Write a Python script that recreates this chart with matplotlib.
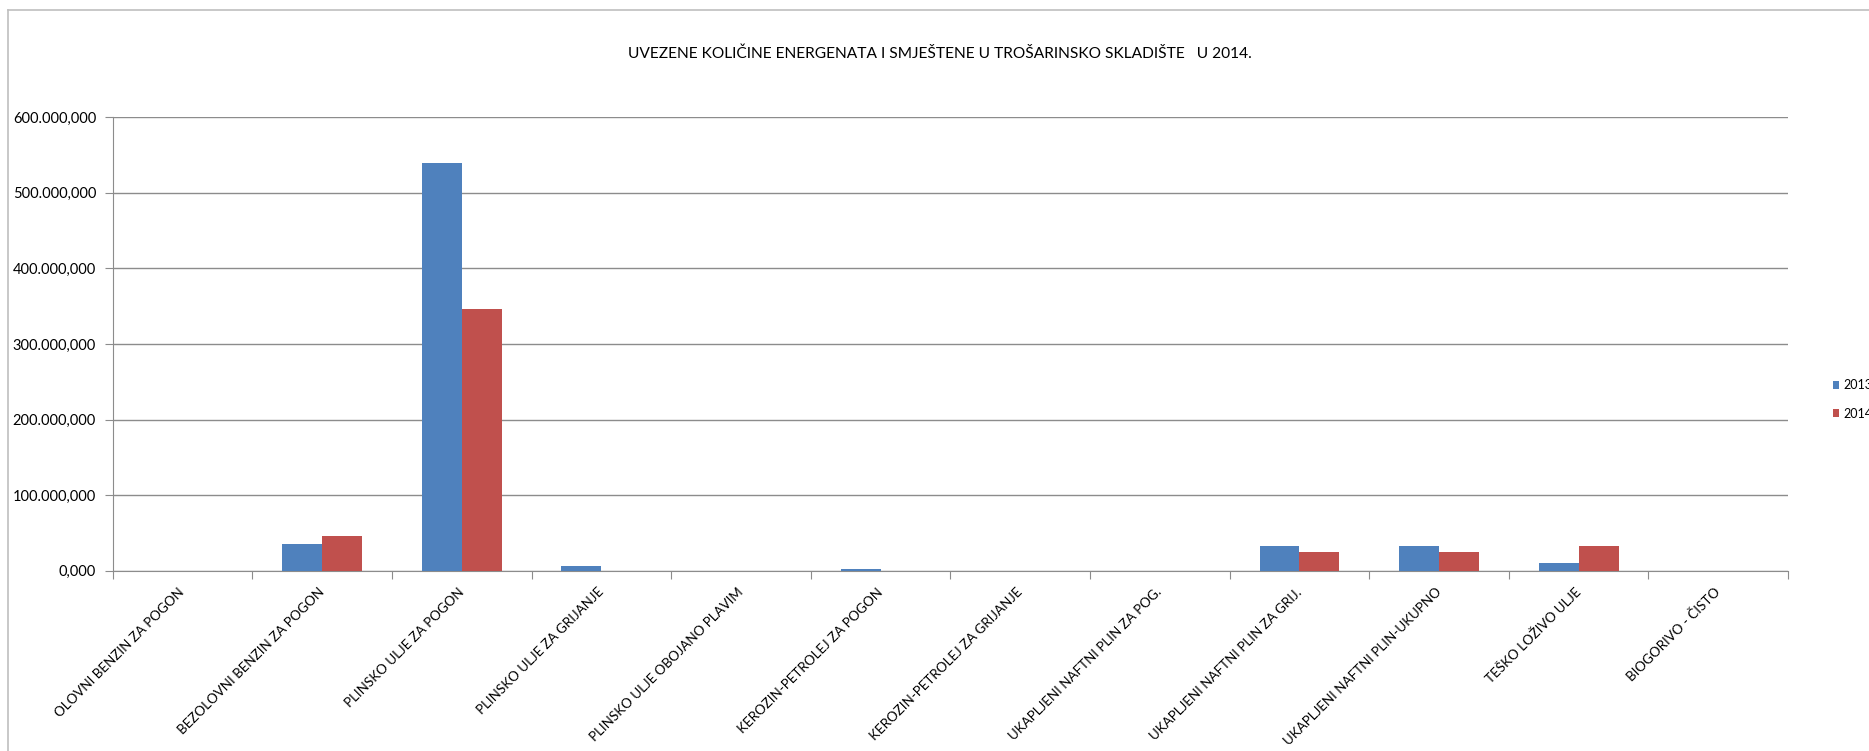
import numpy as np
import matplotlib.pyplot as plt
import matplotlib
from matplotlib.patches import Patch
from matplotlib.lines import Line2D
from matplotlib.ticker import FuncFormatter

plt.rcParams['font.family'] = ['Lato', 'DejaVu Sans']

title = 'UVEZENE KOLIČINE ENERGENATA I SMJEŠTENE U TROŠARINSKO SKLADIŠTE   U 2014.'
categories = ['OLOVNI BENZIN ZA POGON', 'BEZOLOVNI BENZIN ZA POGON',
              'PLINSKO ULJE ZA POGON', 'PLINSKO ULJE ZA GRIJANJE',
              'PLINSKO ULJE OBOJANO PLAVIM', 'KEROZIN-PETROLEJ ZA POGON',
              'KEROZIN-PETROLEJ ZA GRIJANJE', 'UKAPLJENI NAFTNI PLIN ZA POG.',
              'UKAPLJENI NAFTNI PLIN ZA GRIJ.', 'UKAPLJENI NAFTNI PLIN-UKUPNO',
              'TEŠKO LOŽIVO ULJE', 'BIOGORIVO - ČISTO']
series = ['2013', '2014']
v2013 = [0, 34800, 539500, 6200, 0, 1800, 0, 200, 32700, 32700, 10200, 0]
v2014 = [0, 45800, 346000, 0, 0, 0, 0, 0, 24700, 24700, 33000, 0]
colors = ['#4F81BD', '#C0504D']

fig = plt.figure(figsize=(18.69, 7.51), dpi=100)
ax = fig.add_axes([0.0603, 0.2401, 0.8964, 0.6037])

ind = np.arange(len(categories))
width = 1 / 3.5
ax.bar(ind - width / 2, v2013, width, color=colors[0], zorder=3)
ax.bar(ind + width / 2, v2014, width, color=colors[1], zorder=3)

ax.set_xlim(-0.5, len(categories) - 0.5)
ax.set_ylim(0, 600000)
ax.set_yticks(np.arange(0, 600001, 100000))


def fmt(v, pos):
    s = '{:,.3f}'.format(v)
    return s.replace(',', '#').replace('.', ',').replace('#', '.')


ax.yaxis.set_major_formatter(FuncFormatter(fmt))
ax.grid(axis='y', color='#8C8C8C', linewidth=1.0, zorder=0)
ax.set_axisbelow(True)

ax.set_xticks(np.arange(len(categories) + 1) - 0.5)
ax.set_xticklabels([])
ax.set_xticks(ind, minor=True)
ax.set_xticklabels(categories, minor=True, rotation=45, ha='right', va='center',
                   rotation_mode='anchor', fontsize=9.6)
ax.tick_params(axis='x', which='minor', length=0, pad=14)
ax.tick_params(axis='x', which='major', length=6, color='#8C8C8C')
ax.tick_params(axis='y', length=6, color='#8C8C8C', labelsize=10.5, pad=6)

for s in ['top', 'right']:
    ax.spines[s].set_visible(False)
for s in ['left', 'bottom']:
    ax.spines[s].set_color('#8C8C8C')

fig.text(0.503, 0.928, title, ha='center', va='center', fontsize=11.2)

handles = [Patch(facecolor=c) for c in colors]
fig.legend(handles, series, loc='center left', bbox_to_anchor=(0.9745, 0.468),
           frameon=False, fontsize=9, handlelength=0.55, handleheight=0.55,
           handletextpad=0.3, labelspacing=1.3)

# chart frame
fig.add_artist(Line2D([8 / 1869, 8 / 1869], [0, 1 - 10 / 751], color='#BFBFBF', lw=1.2))
fig.add_artist(Line2D([8 / 1869, 1], [1 - 10 / 751, 1 - 10 / 751], color='#BFBFBF', lw=1.2))

plt.savefig('out.png', dpi=100)
